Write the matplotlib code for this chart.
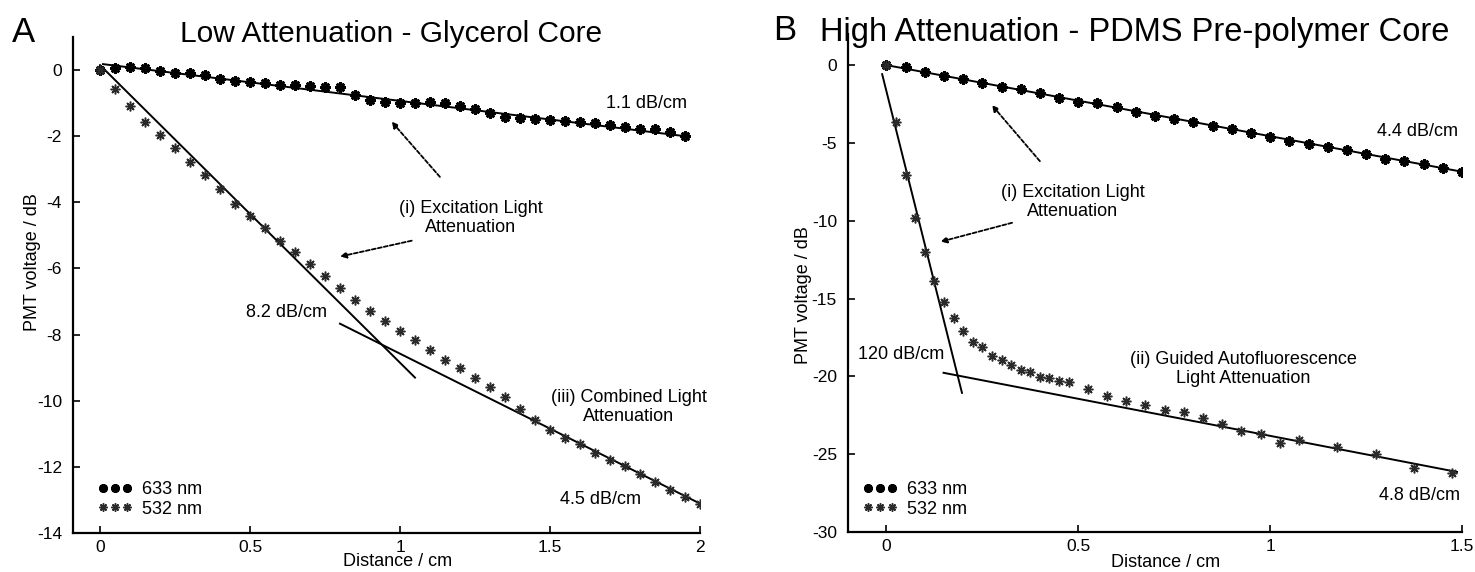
import numpy as np
import matplotlib
matplotlib.use('Agg')
import matplotlib.pyplot as plt
from matplotlib.ticker import FuncFormatter

plt.rcParams['font.family'] = ['Liberation Sans', 'DejaVu Sans']
plt.rcParams['axes.unicode_minus'] = False

# ---- panel A : glycerol core ----
a_x633 = np.round(np.arange(0, 1.951, 0.05), 3)
a_y633 = [0.0, 0.05, 0.1, 0.05, -0.02, -0.1, -0.08, -0.15, -0.28, -0.33,
          -0.36, -0.4, -0.45, -0.45, -0.48, -0.5, -0.5, -0.74, -0.91, -0.97,
          -1.01, -0.99, -0.98, -1.0, -1.08, -1.19, -1.31, -1.41, -1.46, -1.49,
          -1.51, -1.53, -1.56, -1.61, -1.66, -1.73, -1.78, -1.78, -1.88, -1.99]
a_x532 = np.round(np.arange(0, 2.001, 0.05), 3)
a_y532 = [0.0, -0.58, -1.09, -1.56, -1.96, -2.35, -2.77, -3.17, -3.6, -4.05,
          -4.41, -4.78, -5.16, -5.5, -5.88, -6.22, -6.58, -6.96, -7.28, -7.6,
          -7.9, -8.15, -8.48, -8.76, -9.02, -9.32, -9.59, -9.89, -10.25, -10.59,
          -10.88, -11.13, -11.31, -11.58, -11.8, -11.98, -12.21, -12.46, -12.69,
          -12.91, -13.11]
a_fit_low = ([0.01, 1.95], [0.18, -2.0])        # 1.1 dB/cm
a_fit_steep = ([0.0, 1.05], [0.15, -9.3])       # 8.2 dB/cm
a_fit_comb = ([0.8, 2.0], [-7.67, -13.11])      # 4.5 dB/cm

# ---- panel B : PDMS pre-polymer core ----
b_x633 = np.round(np.arange(0, 1.501, 0.05), 3)
b_y633 = [0.0, -0.15, -0.43, -0.71, -0.9, -1.14, -1.39, -1.56, -1.82, -2.1,
          -2.36, -2.46, -2.72, -3.02, -3.28, -3.47, -3.64, -3.92, -4.13, -4.35,
          -4.61, -4.86, -5.1, -5.29, -5.46, -5.74, -6.0, -6.17, -6.36, -6.64, -6.86]
b_x532 = [0.0, 0.025, 0.05, 0.075, 0.1, 0.125, 0.15, 0.175, 0.2, 0.225, 0.25,
          0.275, 0.3, 0.325, 0.35, 0.375, 0.4, 0.425, 0.45, 0.475, 0.525, 0.575,
          0.625, 0.675, 0.725, 0.775, 0.825, 0.875, 0.925, 0.975, 1.025, 1.075,
          1.175, 1.275, 1.375, 1.475]
b_y532 = [0.0, -3.64, -7.07, -9.85, -12.0, -13.85, -15.2, -16.24, -17.08, -17.78,
          -18.1, -18.7, -18.92, -19.24, -19.56, -19.71, -20.03, -20.1, -20.31,
          -20.39, -20.78, -21.25, -21.57, -21.81, -22.17, -22.32, -22.67, -23.03,
          -23.5, -23.72, -24.31, -24.1, -24.57, -25.0, -25.86, -26.2]
b_fit_low = ([0.0, 1.5], [0.0, -6.85])          # 4.4 dB/cm
b_fit_steep = ([-0.011, 0.197], [-0.58, -21.06])  # 120 dB/cm
b_fit_auto = ([0.149, 1.487], [-19.77, -26.14])   # 4.8 dB/cm

star = (8, 2, 0)
fs = 13


def fmt(v, pos):
    return ('%g' % v)


def setup(ax, xlim, ylim, xticks, yticks, xlab_pos, ylab_pos):
    ax.set_xlim(*xlim)
    ax.set_ylim(*ylim)
    ax.set_xticks(xticks)
    ax.set_yticks(yticks)
    ax.xaxis.set_major_formatter(FuncFormatter(fmt))
    ax.yaxis.set_major_formatter(FuncFormatter(fmt))
    ax.spines['top'].set_visible(False)
    ax.spines['right'].set_visible(False)
    ax.spines['left'].set_linewidth(1.6)
    ax.spines['bottom'].set_linewidth(1.6)
    ax.tick_params(direction='in', length=5, width=1.2, labelsize=12.5)
    ax.tick_params(axis='x', pad=5)
    ax.tick_params(axis='y', pad=8)
    ax.set_xlabel('Distance / cm', fontsize=13, va='center')
    ax.set_ylabel('PMT voltage / dB', fontsize=13, va='center')
    ax.xaxis.set_label_coords(*xlab_pos)
    ax.yaxis.set_label_coords(*ylab_pos)


def series(ax, x633, y633, x532, y532, anchor):
    ax.plot(x633, y633, ls='none', marker=star, ms=7.5, mew=1.9, color='k', label='633 nm')
    ax.plot(x532, y532, ls='none', marker=star, ms=7, mew=1.1, color='#2a2a2a', label='532 nm')
    ax.legend(loc='lower left', bbox_to_anchor=anchor, numpoints=3, frameon=False,
              fontsize=fs, handlelength=1.95, handletextpad=0.5, labelspacing=0.15,
              borderaxespad=0.4, markerscale=0.85)


def arrow(ax, start, tip):
    ax.annotate('', xy=tip, xytext=start,
                arrowprops=dict(arrowstyle='-|>', linestyle=(0, (2.2, 1.2)), lw=1.3,
                                color='k', mutation_scale=9, shrinkA=0, shrinkB=0))


def note(ax, x, y, s):
    ax.text(x, y, s, fontsize=fs, ha='center', va='center', multialignment='center',
            linespacing=1.15)


fig = plt.figure(figsize=(14.75, 5.72), dpi=100)

# panel A
axA = fig.add_axes([73 / 1475, 1 - 533 / 572, 627 / 1475, 496 / 572])
setup(axA, (-0.09, 2.0), (-14, 1), [0, 0.5, 1, 1.5, 2], np.arange(-14, 1, 2),
      (0.517, -0.058), (-0.065, 0.546))
for fx, fy in (a_fit_low, a_fit_steep, a_fit_comb):
    axA.plot(fx, fy, color='k', lw=1.4)
series(axA, a_x633, a_y633, a_x532, a_y532, (0.016, 0.002))
note(axA, 1.82, -1.0, '1.1 dB/cm')
note(axA, 1.235, -4.46, '(i) Excitation Light\nAttenuation')
note(axA, 0.62, -7.34, '8.2 dB/cm')
note(axA, 1.763, -10.2, '(iii) Combined Light\nAttenuation')
note(axA, 1.67, -13.0, '4.5 dB/cm')
arrow(axA, (1.133, -3.23), (0.972, -1.56))
arrow(axA, (1.039, -5.16), (0.80, -5.64))

# panel B
axB = fig.add_axes([848 / 1475, 1 - 532 / 572, 614 / 1475, 498 / 572])
setup(axB, (-0.1, 1.5), (-30, 2), [0, 0.5, 1, 1.5], np.arange(-30, 1, 5),
      (0.518, -0.062), (-0.072, 0.476))
for fx, fy in (b_fit_low, b_fit_steep, b_fit_auto):
    axB.plot(fx, fy, color='k', lw=1.4)
series(axB, b_x633, b_y633, b_x532, b_y532, (0.0, 0.0))
note(axB, 1.385, -4.28, '4.4 dB/cm')
note(axB, 0.485, -8.8, '(i) Excitation Light\nAttenuation')
note(axB, 0.0386, -18.57, '120 dB/cm')
note(axB, 0.93, -19.55, '(ii) Guided Autofluorescence\nLight Attenuation')
note(axB, 1.389, -27.64, '4.8 dB/cm')
arrow(axB, (0.40, -6.17), (0.275, -2.57))
arrow(axB, (0.3275, -10.13), (0.141, -11.35))

# panel letters and titles
fig.text(12 / 1475, 1 - 42 / 572, 'A', fontsize=25, va='baseline', ha='left')
fig.text(773 / 1475, 1 - 40 / 572, 'B', fontsize=25, va='baseline', ha='left')
fig.text(180 / 1475, 1 - 42 / 572, 'Low Attenuation - Glycerol Core', fontsize=21.5, va='baseline', ha='left')
fig.text(820 / 1475, 1 - 41 / 572, 'High Attenuation - PDMS Pre-polymer Core', fontsize=23.5, va='baseline', ha='left')

fig.savefig('out.png', dpi=100)
